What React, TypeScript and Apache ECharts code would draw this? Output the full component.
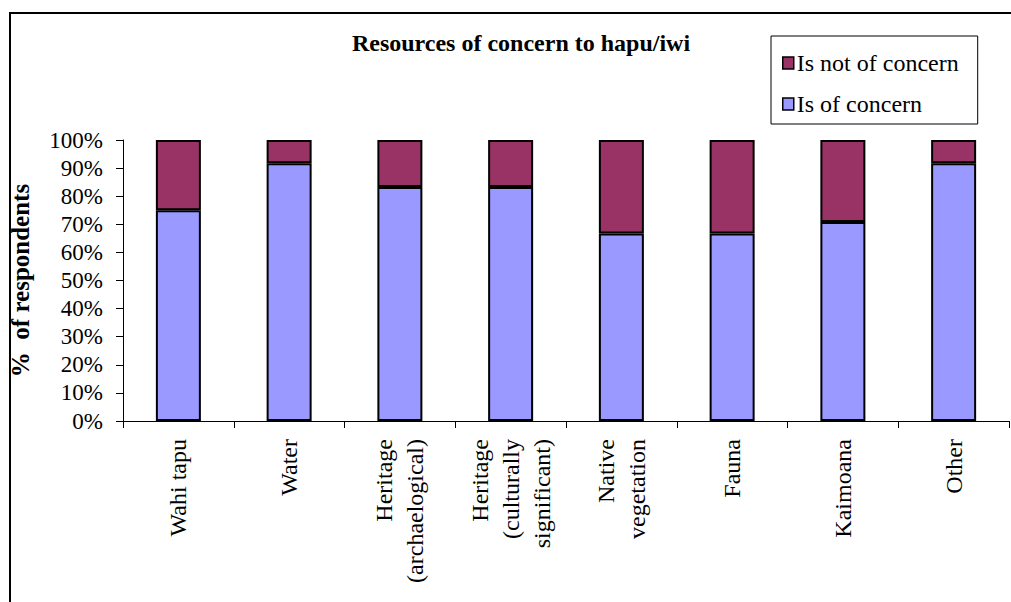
import React, { useEffect, useRef } from "react";
import * as echarts from "echarts";

const categories = [
  "Wahi tapu",
  "Water",
  "Heritage\n(archaelogical)",
  "Heritage\n(culturally\nsignificant)",
  "Native\nvegetation",
  "Fauna",
  "Kaimoana",
  "Other",
];
const isOfConcern = [75, 91.7, 83.3, 83.3, 66.7, 66.7, 70.8, 91.7];
const isNotOfConcern = [25, 8.3, 16.7, 16.7, 33.3, 33.3, 29.2, 8.3];
const seriesNames = ["Is of concern", "Is not of concern"];
const titleText = "Resources of concern to hapu/iwi";
const yAxisName = "%  of respondents";

const FONT = "'Liberation Serif', 'Times New Roman', serif";

export default function App() {
  const ref = useRef<HTMLDivElement>(null);
  useEffect(() => {
    if (!ref.current) return;
    const chart = echarts.init(ref.current, undefined, { renderer: "svg" });
    chart.setOption({
      animation: false,
      backgroundColor: "#ffffff",
      title: {
        text: titleText,
        left: 516,
        textAlign: "center",
        top: 26,
        textStyle: { fontFamily: FONT, fontWeight: "bold", fontSize: 24, color: "#000" },
      },
      legend: {
        data: [seriesNames[1], seriesNames[0]],
        orient: "vertical",
        left: 771,
        top: 36,
        padding: [15, 19, 8, 11],
        itemGap: 17,
        itemWidth: 11,
        itemHeight: 12,
        icon: "rect",
        borderColor: "#000",
        borderWidth: 1,
        backgroundColor: "#fff",
        itemStyle: { borderColor: "#000", borderWidth: 1.5 },
        textStyle: { fontFamily: FONT, fontSize: 24, color: "#000", padding: [0, 0, 0, -2] },
      },
      grid: { left: 122, right: 2, top: 140, bottom: 181, containLabel: false },
      xAxis: {
        type: "category",
        data: categories,
        axisLine: { lineStyle: { color: "#000", width: 1 } },
        axisTick: { show: true, length: 7, lineStyle: { color: "#000" } },
        axisLabel: {
          rotate: 90,
          interval: 0,
          margin: 18,
          fontFamily: FONT,
          fontSize: 24,
          color: "#000",
          lineHeight: 31,
        },
      },
      yAxis: {
        type: "value",
        min: 0,
        max: 100,
        interval: 10,
        name: yAxisName,
        nameLocation: "middle",
        nameGap: 90,
        nameTextStyle: { fontFamily: FONT, fontWeight: "bold", fontSize: 25, color: "#000" },
        axisLine: { show: true, lineStyle: { color: "#000", width: 1 } },
        axisTick: { show: true, length: 7, lineStyle: { color: "#000" } },
        splitLine: { show: false },
        axisLabel: {
          formatter: "{value}%",
          margin: 20,
          fontFamily: FONT,
          fontSize: 23,
          color: "#000",
        },
      },
      series: [
        {
          name: seriesNames[0],
          type: "bar",
          stack: "total",
          data: isOfConcern,
          barWidth: 45,
          itemStyle: { color: "#9999FF", borderColor: "#000", borderWidth: 2 },
        },
        {
          name: seriesNames[1],
          type: "bar",
          stack: "total",
          data: isNotOfConcern,
          barWidth: 45,
          itemStyle: { color: "#993366", borderColor: "#000", borderWidth: 2 },
        },
      ],
      graphic: [
        {
          type: "rect",
          shape: { x: 10, y: 13, width: 1100, height: 700 },
          style: { fill: "none", stroke: "#000", lineWidth: 2 },
          silent: true,
          z: 100,
        },
      ],
    });
    return () => chart.dispose();
  }, []);
  return (
    <div
      ref={ref}
      style={{ position: "absolute", left: 0, top: 0, width: 1011, height: 602 }}
    />
  );
}
